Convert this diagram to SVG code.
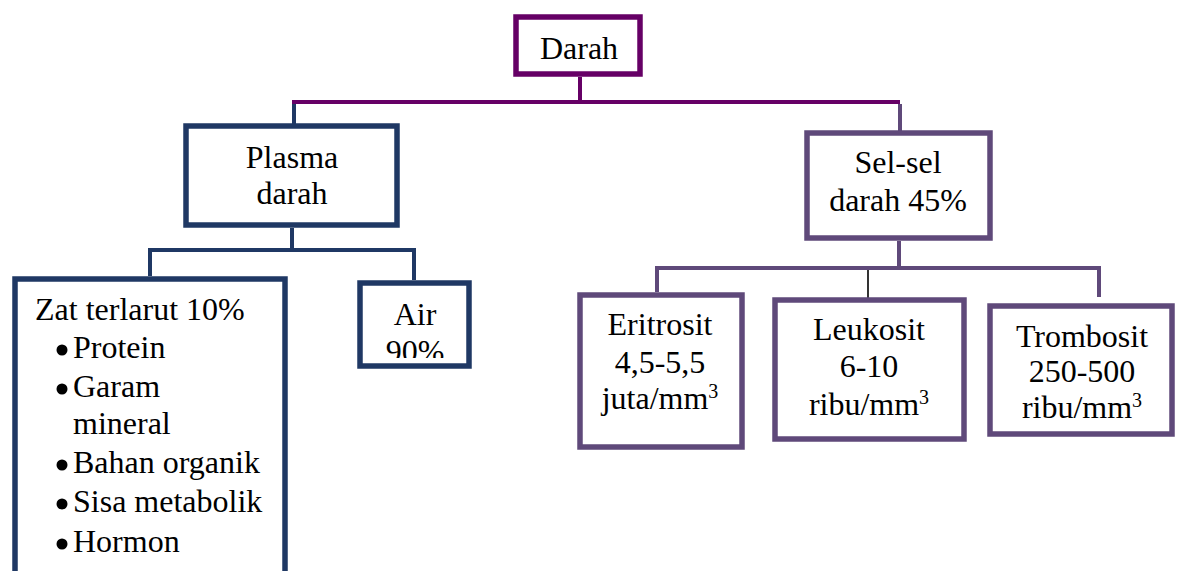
<svg xmlns="http://www.w3.org/2000/svg" width="1181" height="571" viewBox="0 0 1181 571" font-family="'Liberation Serif', Tinos, 'Times New Roman', 'DejaVu Serif', serif">
<style>
text{font-family:'Liberation Serif',Tinos,'Times New Roman','DejaVu Serif',serif;font-size:32px;fill:#000}
.c{text-anchor:middle}
.box{fill:#fff;stroke-width:5.5}
.pu{stroke:#660066}
.nv{stroke:#1f3864}
.lv{stroke:#5f497a}
.ln{fill:none;stroke-width:4}
.sup{font-size:20px}
</style>
<defs>
<clipPath id="airclip"><rect x="360" y="283" width="109" height="75"/></clipPath>
</defs>
<rect width="1181" height="571" fill="#fff"/>
<g id="connectors">
<path class="ln pu" d="M580 77V102M292 102H900"/>
<path class="ln nv" d="M294 104V124"/>
<path class="ln lv" d="M900 104V131"/>
<path class="ln nv" d="M292 228V250M148 250H416M150 250V276M414 250V280"/>
<path class="ln lv" d="M899 241V268M655 268H1101M657 268V292M1099 268V297"/>
<path fill="none" stroke="#000" stroke-width="1.6" d="M868 270V298"/>
</g>
<g id="darah">
<rect class="box pu" x="516" y="17" width="124" height="57"/>
<text class="c" x="579" y="59">Darah</text>
</g>
<g id="plasma">
<rect class="box nv" x="186" y="126" width="211" height="99"/>
<text class="c" x="292" y="168">Plasma</text>
<text class="c" x="292" y="204">darah</text>
</g>
<g id="zat">
<rect class="box nv" x="15" y="279" width="270" height="320"/>
<text x="35" y="320">Zat terlarut 10%</text>
<g fill="#000">
<circle cx="62" cy="350" r="5.5"/>
<circle cx="62" cy="389" r="5.5"/>
<circle cx="62" cy="465" r="5.5"/>
<circle cx="62" cy="504" r="5.5"/>
<circle cx="62" cy="544" r="5.5"/>
</g>
<text x="73" y="358">Protein</text>
<text x="73" y="397">Garam</text>
<text x="73" y="434">mineral</text>
<text x="73" y="473">Bahan organik</text>
<text x="73" y="512">Sisa metabolik</text>
<text x="73" y="552">Hormon</text>
</g>
<g id="air">
<rect class="box nv" x="360" y="283" width="109" height="83"/>
<g clip-path="url(#airclip)">
<text class="c" x="415" y="325">Air</text>
<text class="c" x="415" y="362">90%</text>
</g>
</g>
<g id="selsel">
<rect class="box lv" x="807" y="133" width="183" height="105"/>
<text class="c" x="898" y="173">Sel-sel</text>
<text class="c" x="898" y="211">darah 45%</text>
</g>
<g id="eritrosit">
<rect class="box lv" x="580" y="295" width="162" height="152"/>
<text class="c" x="660" y="335">Eritrosit</text>
<text class="c" x="660" y="373">4,5-5,5</text>
<text class="c" x="660" y="409">juta/mm<tspan class="sup" dy="-11">3</tspan></text>
</g>
<g id="leukosit">
<rect class="box lv" x="775" y="300" width="189" height="139"/>
<text class="c" x="869" y="340">Leukosit</text>
<text class="c" x="869" y="377">6-10</text>
<text class="c" x="869" y="415">ribu/mm<tspan class="sup" dy="-11">3</tspan></text>
</g>
<g id="trombosit">
<rect class="box lv" x="990" y="306" width="182" height="128"/>
<text class="c" x="1082" y="347">Trombosit</text>
<text class="c" x="1082" y="382">250-500</text>
<text class="c" x="1082" y="418">ribu/mm<tspan class="sup" dy="-11">3</tspan></text>
</g>
</svg>
